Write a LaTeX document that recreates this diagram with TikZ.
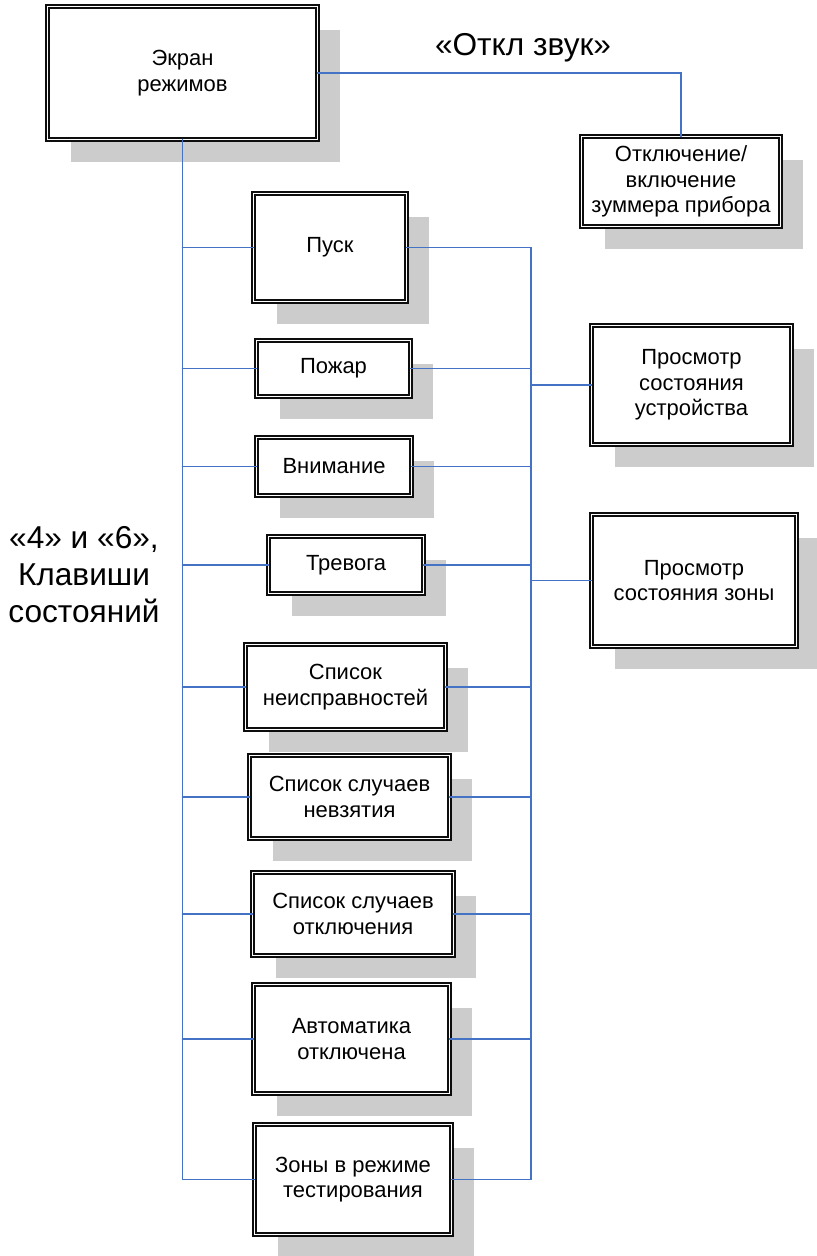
\documentclass[tikz,border=0pt]{standalone}
\usepackage{fontspec}
\setmainfont{Liberation Sans}
\usetikzlibrary{shadows}
\definecolor{MenuInk}{gray}{0.05}
\definecolor{MenuShadow}{gray}{0.80}
\definecolor{MenuLink}{RGB}{68,114,196}
\tikzset{
    menu/diagram/.style={
        x=0.02cm, y=-0.02cm,
        line cap=round,
        line join=miter
    },
    menu/screen/.style={
        draw=MenuInk, double=white, line width=0.9pt, double distance=1.1pt,
        fill=white, align=center, inner sep=2pt, outer sep=0pt,
        font=\fontsize{12.5}{14.5}\selectfont,
        drop shadow={shadow xshift=0.46cm, shadow yshift=-0.46cm,
                     fill=MenuShadow, opacity=1}
    },
    menu/link/.style={draw=MenuLink, line width=0.9pt},
    menu/caption/.style={align=center, font=\fontsize{18}{21}\selectfont}
}

\begin{document}
\begin{tikzpicture}[menu/diagram]
    \useasboundingbox (0,0) rectangle (817,1256);

    % main screen and buzzer
    \node[menu/screen, minimum width=5.40cm, minimum height=2.66cm]
        (mode) at (182.5,73) {Экран\\режимов};
    \node[menu/screen, minimum width=3.98cm, minimum height=1.80cm]
        (buzzer) at (681,181.5) {Отключение/\\включение\\зуммера прибора};
    \node[menu/caption] (mute) at (523,48) {«Откл звук»};

    % state screens
    \node[menu/screen, minimum width=3.06cm, minimum height=2.16cm]
        (start) at (330,247.5) {Пуск};
    \node[menu/screen, minimum width=3.08cm, minimum height=1.12cm]
        (fire) at (333.5,368.5) {Пожар};
    \node[menu/screen, minimum width=3.10cm, minimum height=1.16cm]
        (warning) at (334,466.5) {Внимание};
    \node[menu/screen, minimum width=3.10cm, minimum height=1.14cm]
        (alarm) at (346,565) {Тревога};
    \node[menu/screen, minimum width=4.00cm, minimum height=1.70cm]
        (faults) at (345.5,687) {Список\\неисправностей};
    \node[menu/screen, minimum width=4.00cm, minimum height=1.66cm]
        (unarmed) at (349.5,797) {Список случаев\\невзятия};
    \node[menu/screen, minimum width=4.02cm, minimum height=1.66cm]
        (disabled) at (353,914) {Список случаев\\отключения};
    \node[menu/screen, minimum width=3.92cm, minimum height=2.18cm]
        (automatic) at (351.5,1039) {Автоматика\\отключена};
    \node[menu/screen, minimum width=3.94cm, minimum height=2.20cm]
        (testing) at (353,1179.5) {Зоны в режиме\\тестирования};

    % detail views
    \node[menu/screen, minimum width=4.00cm, minimum height=2.38cm]
        (device) at (691.5,385) {Просмотр\\состояния\\устройства};
    \node[menu/screen, minimum width=4.10cm, minimum height=2.64cm]
        (zone) at (694,580.5) {Просмотр\\состояния зоны};

    \node[menu/caption] (keys) at (84,575) {«4» и «6»,\\Клавиши\\состояний};

    % connectors
    \draw[menu/link] (mode.east) -| (buzzer.north);
    \draw[menu/link] (mode.south) |- (testing.west);
    \foreach \screen in {start,fire,warning,alarm,faults,unarmed,disabled,automatic}
        \draw[menu/link] (\screen.west) -- (\screen.west -| mode.south);

    \coordinate (bus) at (531,247.5);
    \draw[menu/link] (start.east) -- (bus) |- (testing.east);
    \foreach \screen in {fire,warning,alarm,faults,unarmed,disabled,automatic}
        \draw[menu/link] (\screen.east) -- (\screen.east -| bus);
    \draw[menu/link] (device.west) -- (device.west -| bus);
    \draw[menu/link] (zone.west) -- (zone.west -| bus);
\end{tikzpicture}
\end{document}
